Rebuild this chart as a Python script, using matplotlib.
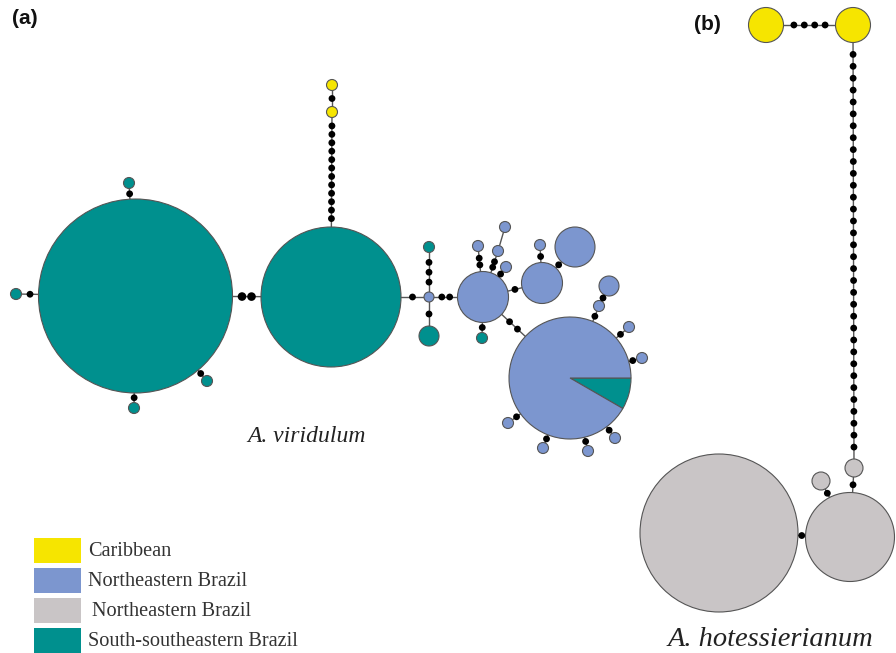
#!/usr/bin/env python3
"""
Haplotype networks for A. viridulum (a) and A. hotessierianum (b).
"""

import matplotlib
matplotlib.use('Agg')
import numpy as np
import matplotlib.pyplot as plt
from matplotlib.patches import Circle, Wedge, Rectangle

# regions / legend
regions = ['Caribbean', 'Northeastern Brazil', 'Northeastern Brazil',
           'South-southeastern Brazil']
region_keys = ['car', 'ne', 'ne_b', 'sse']
colors = {'car': '#f6e500', 'ne': '#7c96cf', 'ne_b': '#c9c5c6',
          'sse': '#00908e'}

# haplotypes: name, region
hap_names = ['A', 'a_top', 'a_left', 'a_bot', 'a_br', 'B', 'y1', 'y2', 'n1',
             't1', 't2', 'C', 'c1', 'c2', 'c3', 'c4', 'c5', 'D', 'd1', 'F',
             'E', 'e1', 'e2', 'e3', 'e4', 'e5', 'e6', 'e7', 'e8',
             'G', 'H', 'k1', 'J', 'k2', 'I']
hap_region = ['sse', 'sse', 'sse', 'sse', 'sse', 'sse', 'car', 'car', 'ne',
              'sse', 'sse', 'ne', 'ne', 'ne', 'ne', 'ne', 'sse', 'ne', 'ne',
              'ne', 'mix', 'ne', 'ne', 'ne', 'ne', 'ne', 'ne', 'ne', 'ne',
              'car', 'car', 'ne_b', 'ne_b', 'ne_b', 'ne_b']
# mixed haplotype E: counts per region
pie_E = {'sse': 1, 'ne': 11}

# links: from, to, number of mutational steps (black dots)
links = [('A', 'a_top', 1), ('A', 'a_left', 1), ('A', 'a_bot', 1),
         ('A', 'a_br', 1), ('A', 'B', 2), ('B', 'y1', 12), ('y1', 'y2', 1),
         ('B', 'n1', 1), ('n1', 't1', 3), ('n1', 't2', 1), ('n1', 'C', 2),
         ('C', 'c1', 2), ('C', 'c2', 2), ('c2', 'c3', 0), ('C', 'c4', 1),
         ('C', 'c5', 1), ('C', 'D', 1), ('D', 'd1', 1), ('D', 'F', 1),
         ('C', 'E', 2), ('E', 'e1', 1), ('e1', 'e2', 1), ('E', 'e3', 1),
         ('E', 'e4', 1), ('E', 'e5', 1), ('E', 'e6', 1), ('E', 'e7', 1),
         ('E', 'e8', 1),
         ('G', 'H', 4), ('H', 'k1', 34), ('k1', 'J', 1), ('J', 'k2', 1),
         ('J', 'I', 1)]

# layout (pixel space of the figure)
pos_x = [135.5, 129, 16, 134, 207, 331, 332, 332, 429, 429, 429, 483, 478,
         498, 505, 506, 482, 542, 540, 575, 570, 599, 609, 629, 642, 615,
         588, 543, 508, 766, 853, 854, 850, 821, 719]
pos_y = [296, 183, 294, 408, 381, 297, 112, 85, 297, 247, 336, 297, 246,
         251, 227, 267, 338, 283, 245, 247, 378, 306, 286, 327, 358, 438,
         451, 448, 423, 25, 25, 468, 537, 481, 533]
radius = [97, 5.5, 5.5, 5.5, 5.5, 70, 5.5, 5.5, 5, 5.5, 10, 25.5, 5.5, 5.5,
          5.5, 5.5, 5.5, 20.5, 5.5, 20, 61, 5.5, 10, 5.5, 5.5, 5.5, 5.5,
          5.5, 5.5, 17.5, 17.5, 9, 44.5, 9, 79]

EDGE = '#555555'

fig = plt.figure(figsize=(8.96, 6.53), dpi=100)
ax = fig.add_axes([0, 0, 1, 1])
ax.set_xlim(0, 896)
ax.set_ylim(653, 0)
ax.set_aspect('equal')
ax.axis('off')

idx = {n: i for i, n in enumerate(hap_names)}

# links and mutation dots
for a, b, nd in links:
    i, j = idx[a], idx[b]
    p0 = np.array([pos_x[i], pos_y[i]])
    p1 = np.array([pos_x[j], pos_y[j]])
    ax.plot([p0[0], p1[0]], [p0[1], p1[1]], color=EDGE, lw=1.0, zorder=1)
    if nd == 0:
        continue
    d = p1 - p0
    dist = np.hypot(*d)
    u = d / dist
    s0 = radius[i]
    s1 = dist - radius[j]
    dot_r = 4.3 if (a, b) == ('A', 'B') else 3.4
    for k in range(1, nd + 1):
        t = s0 + (s1 - s0) * k / (nd + 1)
        q = p0 + u * t
        ax.add_patch(Circle(q, dot_r, facecolor='black', edgecolor='none',
                            zorder=3))

# haplotype circles
for i, n in enumerate(hap_names):
    c = (pos_x[i], pos_y[i])
    if hap_region[i] == 'mix':
        total = sum(pie_E.values())
        ang = 0.0
        for key in ['sse', 'ne']:
            span = 360.0 * pie_E[key] / total
            ax.add_patch(Wedge(c, radius[i], ang, ang + span,
                               facecolor=colors[key], edgecolor=EDGE,
                               lw=0.8, zorder=2))
            ang += span
    else:
        ax.add_patch(Circle(c, radius[i], facecolor=colors[hap_region[i]],
                            edgecolor=EDGE, lw=0.8, zorder=2))

# panel labels
ax.text(12, 19, '(a)', fontsize=15, fontweight='bold', family='Liberation Sans',
        ha='left', va='center', color='#111111')
ax.text(694, 25, '(b)', fontsize=15, fontweight='bold',
        family='Liberation Sans', ha='left', va='center', color='#111111')

# species names
ax.text(306, 437, 'A. viridulum', fontsize=17, style='italic',
        family='Liberation Serif', ha='center', va='center', color='#222222')
ax.text(770, 639, 'A. hotessierianum', fontsize=20.5, style='italic',
        family='Liberation Serif', ha='center', va='center', color='#222222')

# legend
for k, (lab, key) in enumerate(zip(regions, region_keys)):
    y0 = 538 + 30 * k
    ax.add_patch(Rectangle((34, y0), 47, 25, facecolor=colors[key],
                           edgecolor='none', zorder=2))
    tx = 92 if key == 'ne_b' else 88
    ax.text(tx, y0 + 13, lab, fontsize=14.6, family='Liberation Serif',
            ha='left', va='center', color='#333333')

plt.savefig('out.png', dpi=100)
